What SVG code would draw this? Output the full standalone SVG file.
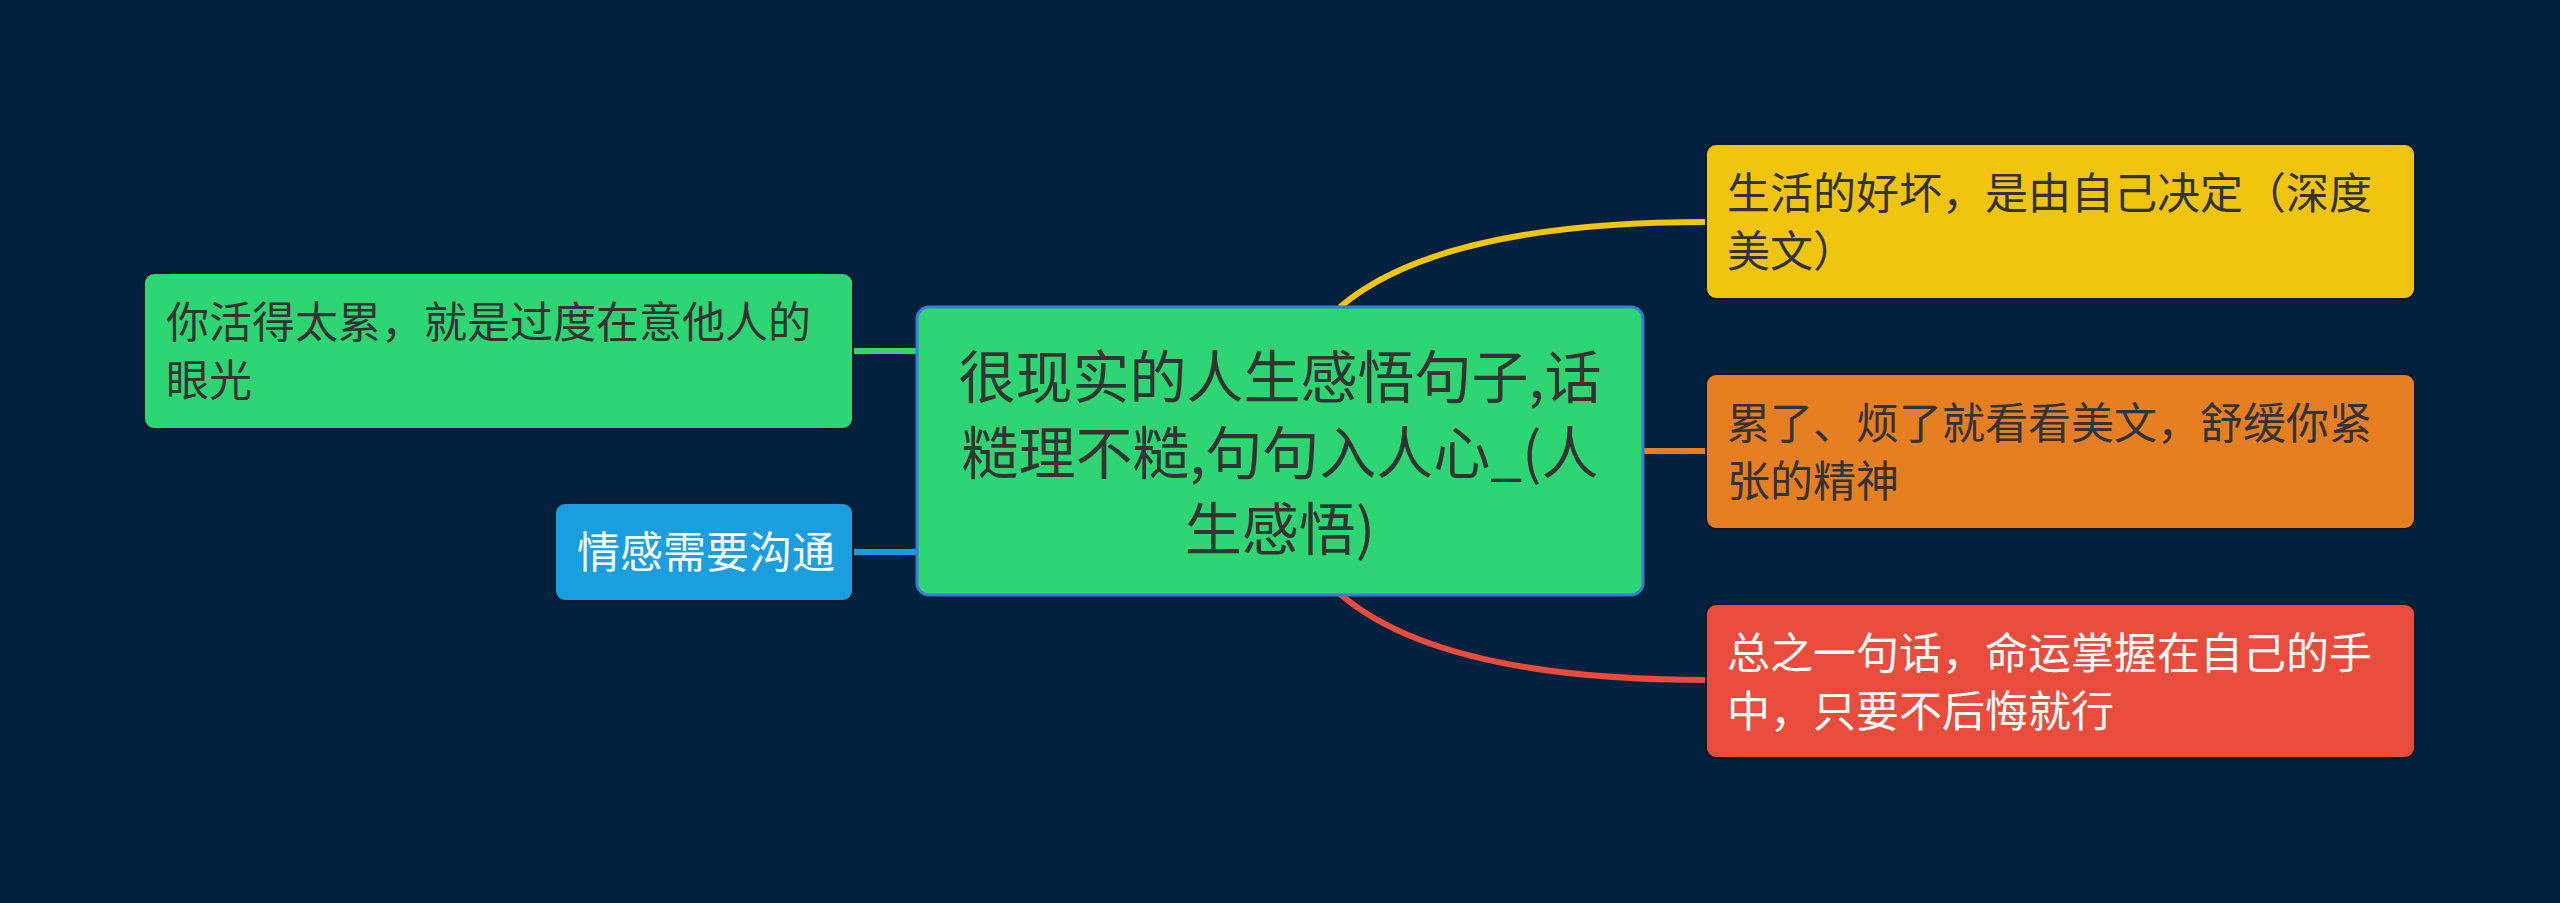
<svg xmlns="http://www.w3.org/2000/svg" width="2560" height="903" viewBox="0 0 2560 903">
<style>
.bg{fill:#02213f}
.node{stroke:#0b1a2a;stroke-width:2}
.t{font-family:"Noto Sans CJK SC","Noto Sans",sans-serif;font-size:43px;fill:#333333}
.tw{fill:#ffffff}
.tc{font-family:"Noto Sans CJK SC","Noto Sans",sans-serif;font-size:57px;fill:#333333;text-anchor:middle}
.c{fill:none;stroke-width:6;stroke-linecap:butt}
</style>
<rect class="bg" x="0" y="0" width="2560" height="903"/>
<g id="connectors">
<path class="c" stroke="#2ed573" d="M852 351 L918 351"/>
<path class="c" stroke="#1a9ee0" d="M852 552 L918 552"/>
<path class="c" stroke="#f1c40f" d="M1340 307 Q1440 222 1707 222"/>
<path class="c" stroke="#e67e22" d="M1642 451 L1707 451"/>
<path class="c" stroke="#e74c3c" d="M1340 594 Q1440 680 1707 680"/>
</g>
<g id="central">
<rect x="917" y="307" width="726" height="288" rx="12" fill="#2ed573" stroke="#3a7bd5" stroke-width="3"/>
<text class="tc" x="1280" y="398">很现实的人生感悟句子,话</text>
<text class="tc" x="1280" y="474">糙理不糙,句句入人心_(人</text>
<text class="tc" x="1280" y="550">生感悟)</text>
</g>
<g id="left1">
<rect class="node" x="144" y="273" width="709" height="156" rx="10" fill="#2ed573"/>
<text class="t" x="166" y="338">你活得太累，就是过度在意他人的</text>
<text class="t" x="166" y="396">眼光</text>
</g>
<g id="left2">
<rect class="node" x="555" y="503" width="298" height="98" rx="10" fill="#1a9ee0"/>
<text class="t tw" x="577" y="568">情感需要沟通</text>
</g>
<g id="right1">
<rect class="node" x="1706" y="144" width="709" height="155" rx="10" fill="#f1c40f"/>
<text class="t" x="1727" y="209">生活的好坏，是由自己决定（深度</text>
<text class="t" x="1727" y="267">美文）</text>
</g>
<g id="right2">
<rect class="node" x="1706" y="374" width="709" height="155" rx="10" fill="#e67e22"/>
<text class="t" x="1727" y="439">累了、烦了就看看美文，舒缓你紧</text>
<text class="t" x="1727" y="497">张的精神</text>
</g>
<g id="right3">
<rect class="node" x="1706" y="604" width="709" height="154" rx="10" fill="#e74c3c"/>
<text class="t tw" x="1727" y="669">总之一句话，命运掌握在自己的手</text>
<text class="t tw" x="1727" y="727">中，只要不后悔就行</text>
</g>
</svg>
